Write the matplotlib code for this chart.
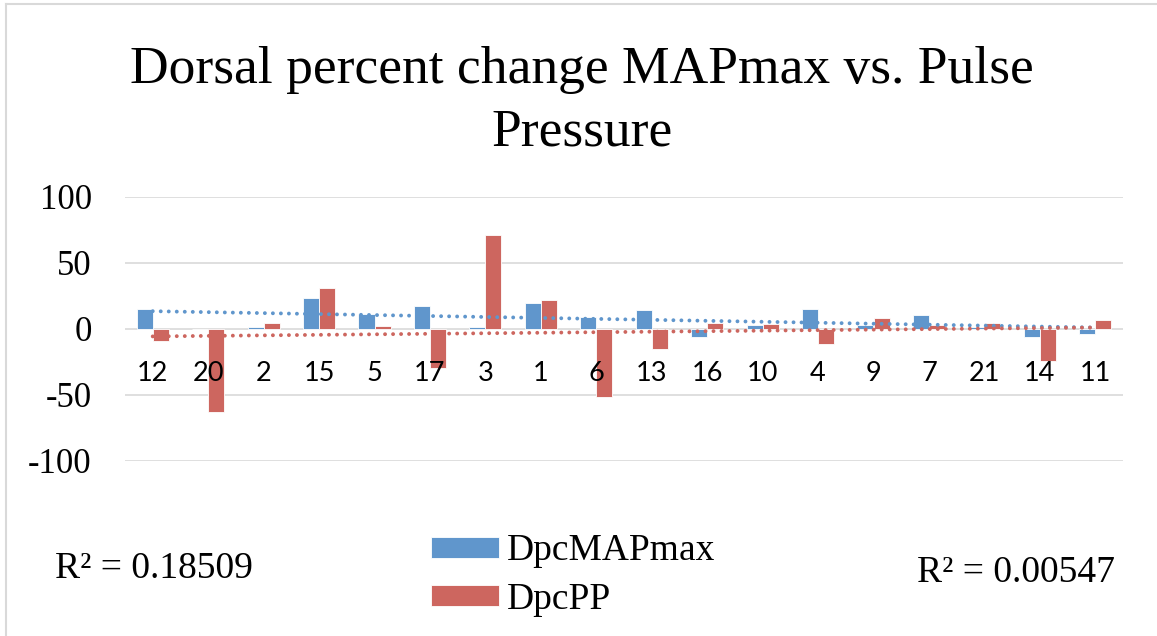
import numpy as np
import matplotlib
matplotlib.use("Agg")
import matplotlib.pyplot as plt
from matplotlib.lines import Line2D

# values
subjects = ["12", "20", "2", "15", "5", "17", "3", "1", "6", "13", "16", "10", "4", "9", "7", "21", "14", "11"]
dpc_map_max = [15, -0.5, 1.5, 23, 11, 17.3, 1.3, 19.4, 9.2, 14.5, -6, 2.8, 14.8, 2.6, 10.2, 1, -6, -3.8]
dpc_pp = [-9.4, -63, 4, 31, 1.8, -29.8, 70.8, 21.9, -51.4, -15, 4.6, 3.6, -11.4, 8.2, 3, 4.6, -24.6, 6.6]
r2_map = "R² = 0.18509"
r2_pp = "R² = 0.00547"

blue = "#6096CC"
red = "#CD665F"
grid_c = "#D9D9D9"
serif = "Liberation Serif"

W, H = 1157, 636
fig = plt.figure(figsize=(W / 100, H / 100), dpi=100)
ax = fig.add_axes([125 / W, 1 - 460.7 / H, (1123 - 125) / W, (460.7 - 196.7) / H])

x = np.arange(len(subjects))
bw = 0.29
ax.bar(x - bw / 2, dpc_map_max, bw, color=blue, edgecolor="white", linewidth=0.6, label="DpcMAPmax", zorder=2)
ax.bar(x + bw / 2, dpc_pp, bw, color=red, edgecolor="white", linewidth=0.6, label="DpcPP", zorder=2)

# linear trendlines, like excel does
for vals, c in [(dpc_map_max, blue), (dpc_pp, red)]:
    k, b = np.polyfit(x, vals, 1)
    ax.plot(x, k * x + b, color=c, lw=2.8, dashes=(0.01, 2.05),
            dash_capstyle="round", zorder=3)

ax.set_xlim(-0.5, len(subjects) - 0.5)
ax.set_ylim(-100, 100)
ax.set_yticks([-100, -50, 0, 50, 100])
ax.set_yticklabels(["-100", "-50", "0", "50", "100"], fontfamily=serif, fontsize=25)
ax.tick_params(axis="y", length=0, pad=24)
ax.set_xticks([])
ax.grid(axis="y", color=grid_c, lw=1.2, zorder=0)
for s in ax.spines.values():
    s.set_visible(False)

# category labels sit just under the zero line
for i, lab in enumerate(subjects):
    ax.annotate(lab, (i, 0), xytext=(0, -38), textcoords="offset points",
                ha="center", va="baseline", fontsize=19.5, fontfamily="Lato")

fig.text(582 / W, 1 - 82.7 / H, "Dorsal percent change MAPmax vs. Pulse",
         ha="center", va="baseline", fontsize=38.5, fontfamily=serif)
fig.text(582 / W, 1 - 145 / H, "Pressure",
         ha="center", va="baseline", fontsize=38.5, fontfamily=serif)

leg = fig.legend(loc="upper left", bbox_to_anchor=(431 / W, 1 - 534 / H),
                 frameon=False, prop={"family": serif, "size": 27},
                 handlelength=1.81, handleheight=0.5, handletextpad=0.2,
                 labelspacing=0.37, borderpad=0, borderaxespad=0)

fig.text(55 / W, 1 - 578.3 / H, r2_map, ha="left", va="baseline", fontsize=27, fontfamily=serif)
fig.text(916.7 / W, 1 - 581.7 / H, r2_pp, ha="left", va="baseline", fontsize=27, fontfamily=serif)

# chart area border (only left/top show in the crop)
fig.add_artist(Line2D([6 / W, 6 / W], [0, 1 - 4 / H], color=grid_c, lw=1.5))
fig.add_artist(Line2D([6 / W, 1], [1 - 4 / H, 1 - 4 / H], color=grid_c, lw=1.5))

fig.savefig("out.png", dpi=100)
